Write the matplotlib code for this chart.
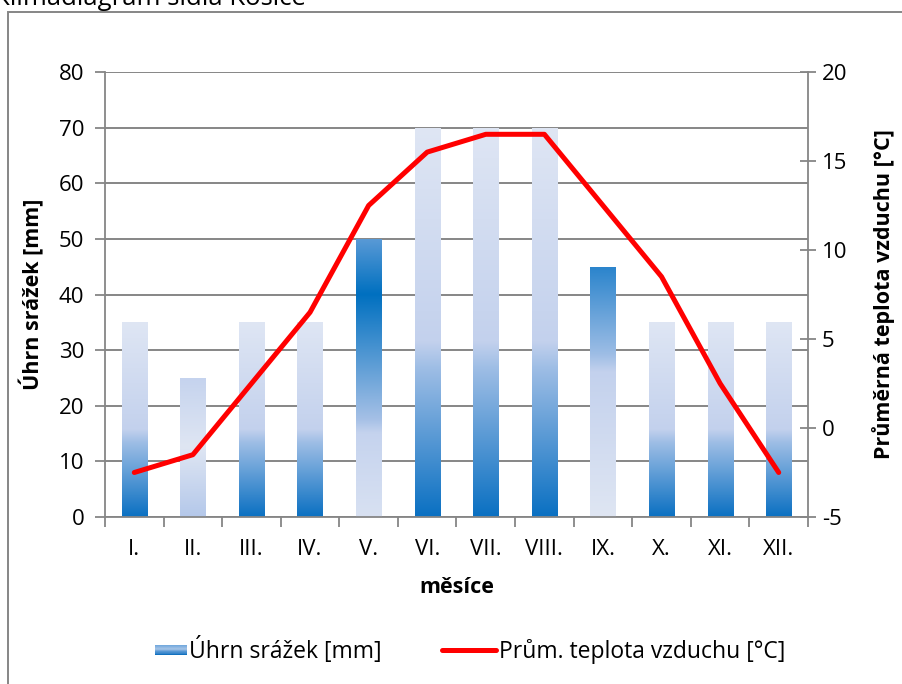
import matplotlib
matplotlib.use('Agg')
import matplotlib.pyplot as plt
import numpy as np
from matplotlib.colors import LinearSegmentedColormap
from matplotlib.patches import Rectangle
from matplotlib.lines import Line2D
from matplotlib.legend_handler import HandlerBase

plt.rcParams['font.family'] = ['Open Sans', 'DejaVu Sans']
plt.rcParams['axes.unicode_minus'] = False

# ---- data ----
months = ['I.', 'II.', 'III.', 'IV.', 'V.', 'VI.', 'VII.', 'VIII.', 'IX.', 'X.', 'XI.', 'XII.']
precip = [35, 25, 35, 35, 50, 70, 70, 70, 45, 35, 35, 35]
temp = [-2.5, -1.5, 2.5, 6.5, 12.5, 15.5, 16.5, 16.5, 12.5, 8.5, 2.5, -2.5]
bar_styles = ['normal', 'reflect', 'normal', 'normal', 'peak', 'normal',
              'normal', 'normal', 'invert', 'normal', 'normal', 'normal']

title = 'Klimadiagram sídla Košice'
label_precip = 'Úhrn srážek [mm]'
label_temp_axis = 'Průměrná teplota vzduchu [°C]'
label_temp_legend = 'Prům. teplota vzduchu [°C]'
label_x = 'měsíce'

# ---- styles ----
gradients = {
    'normal': [(0, '#dfe6f4'), (0.55, '#c3d1ed'), (0.62, '#9dbde5'), (1, '#0a70c2')],
    'reflect': [(0, '#c5d3ee'), (0.5, '#dfe6f3'), (1, '#b4c8ea')],
    'peak': [(0, '#5a9ad6'), (0.2, '#0070c0'), (0.65, '#a5c0e6'), (0.7, '#c5d3ee'), (1, '#d8e1f2')],
    'invert': [(0, '#2a84cc'), (0.35, '#9dbde5'), (0.42, '#c3d1ed'), (1, '#dfe6f3')],
    'legend': [(0, '#6fa6dc'), (0.4, '#b0cae9'), (0.6, '#5b9ad6'), (1, '#0a6cbc')],
}
cmaps = {k: LinearSegmentedColormap.from_list(k, v) for k, v in gradients.items()}
GRAY = '#868686'
TICK_FS = 16
LABEL_FS = 15.5
LEGEND_FS = 16.5

W, H = 903, 684
fig = plt.figure(figsize=(W / 100, H / 100), dpi=100)
L, R, T, B = 105, 808, 72, 517
ax = fig.add_axes([L / W, 1 - B / H, (R - L) / W, (B - T) / H])

x = np.arange(len(months))
bars = ax.bar(x, precip, width=0.43, color='none', edgecolor='none', zorder=2)
grad = np.linspace(0, 1, 256).reshape(-1, 1)
for patch, style in zip(bars.patches, bar_styles):
    x0 = patch.get_x()
    w = patch.get_width()
    h = patch.get_height()
    im = ax.imshow(grad, cmap=cmaps[style], extent=[x0, x0 + w, 0, h], origin='upper',
                   aspect='auto', interpolation='bilinear', zorder=2)
    im.set_clip_path(patch)

ax.set_xlim(-0.5, len(months) - 0.5)
ax.set_ylim(0, 80)
ax.set_yticks(np.arange(0, 81, 10))
ax.set_xticks(x)
ax.set_xticklabels(months)
ax.set_xticks(np.arange(-0.5, len(months), 1), minor=True)
ax.tick_params(axis='x', which='major', length=0, labelsize=TICK_FS, pad=16)
ax.tick_params(axis='x', which='minor', length=7, width=1.3, color=GRAY, direction='out')
ax.tick_params(axis='y', length=7, width=1.3, color=GRAY, direction='out', labelsize=TICK_FS, pad=8)
ax.yaxis.grid(True, color=GRAY, lw=1.4)
ax.set_axisbelow(True)
for s in ['left', 'bottom', 'right']:
    ax.spines[s].set_color(GRAY)
    ax.spines[s].set_linewidth(1.3)
ax.spines['top'].set_visible(False)
ax.set_ylabel(label_precip, fontsize=LABEL_FS, fontweight='bold', labelpad=10)
ax.set_xlabel(label_x, fontsize=LABEL_FS, fontweight='bold', labelpad=12)

ax2 = ax.twinx()
ax2.plot(x, temp, color='#ff0000', lw=3.6, solid_joinstyle='round', solid_capstyle='round', zorder=5)
ax2.set_ylim(-5, 20)
ax2.set_yticks(np.arange(-5, 21, 5))
ax2.tick_params(axis='y', length=12, width=1.3, color=GRAY, direction='inout', labelsize=TICK_FS, pad=4)
for s in ['left', 'bottom', 'right', 'top']:
    ax2.spines[s].set_visible(False)
ax2.set_ylabel(label_temp_axis, fontsize=LABEL_FS, fontweight='bold', labelpad=18)

# chart border
fig.patches.append(Rectangle((8 / W, -0.1), 1.2, 1 - 12 / H + 0.1, transform=fig.transFigure,
                             fill=False, edgecolor=GRAY, lw=1.4))
# title (clipped at top like reference)
fig.text(-6 / W, 1 - 5 / H, title, fontsize=18.5, va='baseline', ha='left')


class GradHandler(HandlerBase):
    def create_artists(self, legend, orig_handle, xdescent, ydescent, width, height, fontsize, trans):
        n = 12
        hh = height * 0.62
        y0 = -ydescent + (height - hh) / 2
        arts = []
        for i in range(n):
            c = cmaps['legend']((i + 0.5) / n)
            arts.append(Rectangle((-xdescent, y0 + hh - (i + 1) * hh / n), width, hh / n + 0.2,
                                  facecolor=c, edgecolor='none', transform=trans))
        return arts


class LongLineHandler(HandlerBase):
    def create_artists(self, legend, orig_handle, xdescent, ydescent, width, height, fontsize, trans):
        yc = -ydescent + height / 2
        ln = Line2D([-xdescent - 0.7 * width, -xdescent + width], [yc, yc],
                    color=orig_handle.get_color(), lw=orig_handle.get_linewidth(),
                    solid_capstyle='round', transform=trans)
        return [ln]


h_bar = Rectangle((0, 0), 1, 1)
h_line = Line2D([], [], color='#ff0000', lw=3.6)
fig.legend([h_bar, h_line], [label_precip, label_temp_legend], loc='center',
           bbox_to_anchor=(470 / W, 1 - 651 / H), ncol=2, frameon=False, fontsize=LEGEND_FS,
           handlelength=1.4, handletextpad=0.1, columnspacing=3.6,
           handler_map={Rectangle: GradHandler(), Line2D: LongLineHandler()})

fig.savefig('out.png', dpi=100)
